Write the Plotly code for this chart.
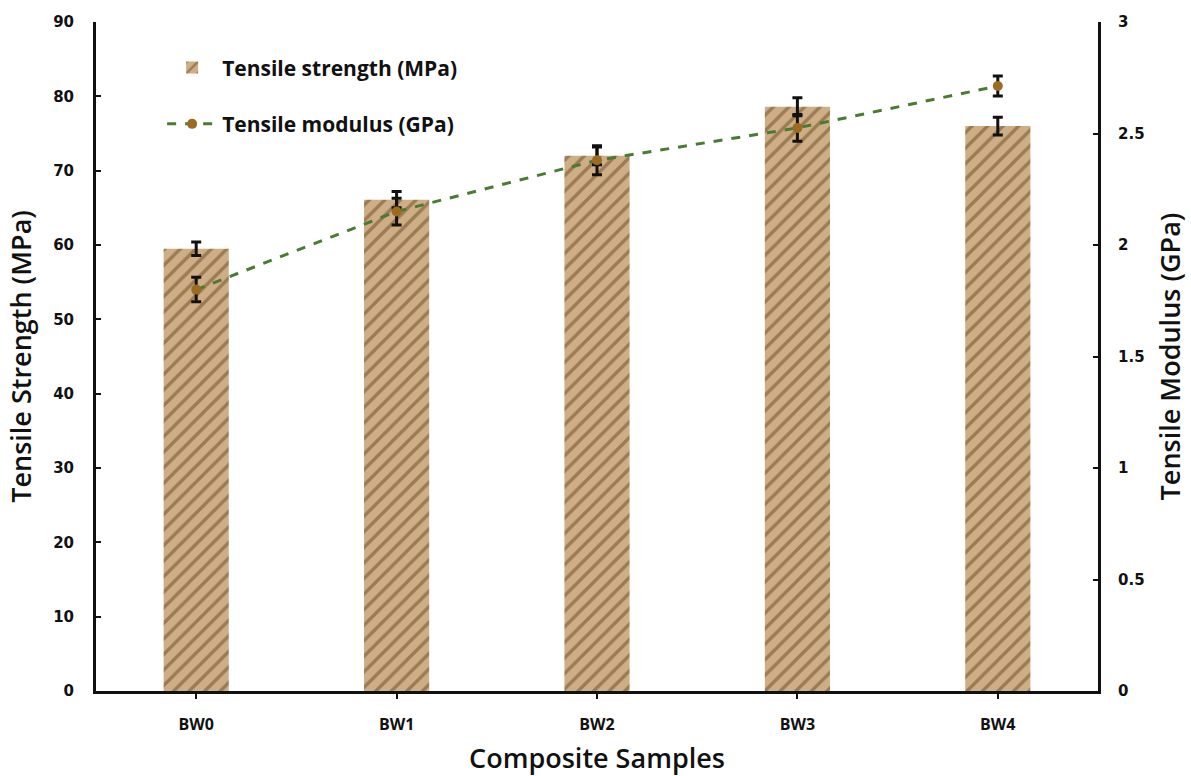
import plotly.graph_objects as go

# Composite samples and measured properties
samples = ["BW0", "BW1", "BW2", "BW3", "BW4"]
tensile_strength = [59.5, 66.1, 72.0, 78.6, 76.0]          # MPa
strength_err = [0.9, 1.1, 1.2, 1.2, 1.2]
tensile_modulus = [1.80, 2.15, 2.38, 2.525, 2.713]         # GPa
modulus_err = [0.055, 0.06, 0.065, 0.06, 0.045]

left_ticks = list(range(0, 91, 10))
right_ticks = [0, 0.5, 1, 1.5, 2, 2.5, 3]
right_tick_text = ["0", "0.5", "1", "1.5", "2", "2.5", "3"]

num_font = dict(family="DejaVu Sans", size=15, color="#111", weight=700)
cat_font = dict(family="Open Sans", size=16, color="#111", weight=700)
title_font = dict(family="Open Sans", size=27, color="#111", weight=600)

fig = go.Figure()

# Kraft-paper coloured bars for tensile strength
fig.add_trace(go.Bar(
    x=samples, y=tensile_strength,
    name="Tensile strength (MPa)",
    width=0.325,
    marker=dict(
        color="#c9a77c",
        line=dict(width=0),
        pattern=dict(shape="/", fgcolor="#9c7a52", bgcolor="#cdae86",
                     size=11, solidity=0.3, fillmode="replace"),
    ),
    error_y=dict(type="data", array=strength_err, color="#111",
                 thickness=3, width=5),
    legendgroup="a",
))

# Dashed modulus line on the secondary axis
fig.add_trace(go.Scatter(
    x=samples, y=tensile_modulus,
    name="Tensile modulus (GPa)",
    yaxis="y2",
    mode="lines+markers",
    line=dict(color="#4b7a34", width=3, dash="dash"),
    marker=dict(color="#9c6b1e", size=10),
    error_y=dict(type="data", array=modulus_err, color="#111",
                 thickness=3, width=5),
    legendgroup="b",
))

fig.update_layout(
    width=1191, height=776,
    margin=dict(l=96, r=93, t=22, b=85),
    plot_bgcolor="white", paper_bgcolor="white",
    bargap=0.5,
    showlegend=True,
    legend=dict(
        x=0.066, y=0.962, xanchor="left", yanchor="top",
        bgcolor="rgba(0,0,0,0)",
        font=dict(family="Open Sans", size=21, color="#111", weight=700),
        itemwidth=50, tracegroupgap=26,
    ),
    xaxis=dict(
        type="category", range=[-0.5, 4.5], automargin=False,
        showline=True, linecolor="#111", linewidth=3,
        ticks="outside", ticklen=5, tickwidth=2, tickcolor="#111",
        tickfont=cat_font, showgrid=False, zeroline=False,
        ticklabelstandoff=12,
        title=dict(text="Composite Samples", font=title_font, standoff=25),
    ),
    yaxis=dict(
        range=[0, 90], tickvals=left_ticks, automargin=False,
        showline=True, linecolor="#111", linewidth=3,
        ticks="inside", ticklen=5, tickwidth=2, tickcolor="#111",
        tickfont=num_font, showgrid=False, zeroline=False,
        ticklabelstandoff=16,
        title=dict(text="Tensile Strength (MPa)", font=title_font, standoff=14),
    ),
    yaxis2=dict(
        overlaying="y", side="right",
        range=[0, 3], tickvals=right_ticks, ticktext=right_tick_text,
        automargin=False,
        showline=True, linecolor="#111", linewidth=3,
        ticks="inside", ticklen=5, tickwidth=2, tickcolor="#111",
        tickfont=num_font, showgrid=False, zeroline=False,
        ticklabelstandoff=14,
        title=dict(text="Tensile Modulus (GPa)", font=title_font, standoff=18),
    ),
)

fig.write_html("out.html")
